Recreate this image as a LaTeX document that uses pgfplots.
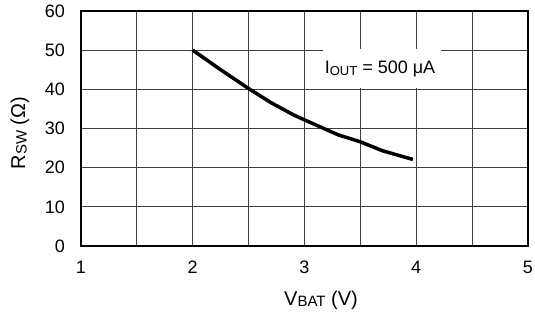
\documentclass[border=0pt]{standalone}
\usepackage{pgfplots}
\pgfplotsset{compat=1.18}
\usepackage{fontspec}
\setmainfont{Liberation Sans}
\begin{document}
\fontsize{18}{21}\selectfont
\begin{tikzpicture}
\useasboundingbox (-81pt,-76pt) rectangle (454pt,246pt);
\begin{axis}[
  at={(0,0)}, anchor=south west,
  scale only axis,
  width=447pt, height=235pt,
  xmin=1, xmax=5, ymin=0, ymax=60,
  xtick={1,2,3,4,5},
  minor xtick={1.5,2.5,3.5,4.5},
  ytick={0,10,20,30,40,50,60},
  grid=both,
  major grid style={black!75, line width=0.8pt},
  minor grid style={black!75, line width=0.8pt},
  major tick length=0pt, minor tick length=0pt,
  axis line style={black, line width=1.4pt},
  /pgf/number format/assume math mode=true,
  tick label style={font=\fontsize{18}{21}\selectfont},
  xticklabel style={yshift=-9pt},
  yticklabel style={xshift=-10pt},
  xlabel={V\raisebox{-1.5pt}{\fontsize{15}{17}\selectfont BAT} (V)},
  ylabel={R\raisebox{-1.5pt}{\fontsize{15}{17}\selectfont SW} (Ω)},
  xlabel style={at={(axis description cs:0.537,-0.2298)}, anchor=center, font=\fontsize{20}{23}\selectfont},
  ylabel style={at={(axis description cs:-0.1365,0.481)}, anchor=center, font=\fontsize{20}{23}\selectfont},
]
\addplot[black, line width=3.5pt, line join=round] coordinates {
  (2,50) (2.25,45) (2.5,40.2) (2.7,36.6) (2.9,33.5) (3,32.2) (3.3,28.4) (3.5,26.6) (3.7,24.3) (3.97,22.1)
};
\fill[white] (axis cs:3.168,40.4) rectangle (axis cs:4.219,50.4);
\node at (axis cs:3.676,45.1) {I\raisebox{-1.5pt}{\fontsize{13}{15}\selectfont OUT} = 500 μA};
\end{axis}
\end{tikzpicture}
\end{document}
